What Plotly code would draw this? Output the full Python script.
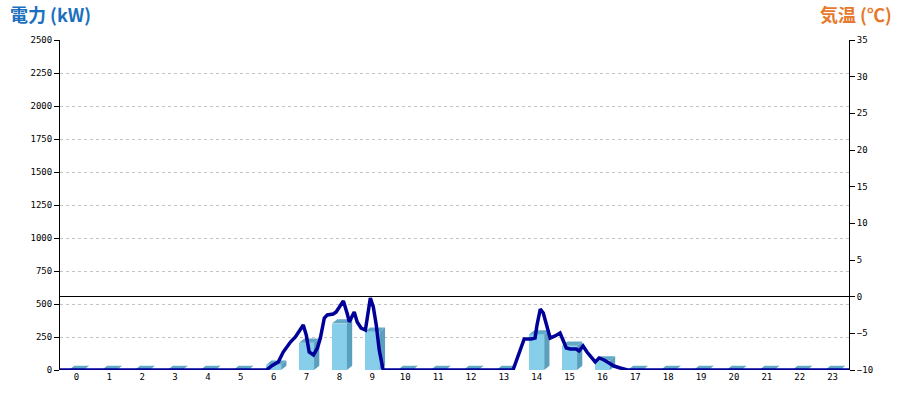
import plotly.graph_objects as go

# ---- data ----
hours = list(range(24))
hour_labels = [str(h) for h in hours]
power_kw = [0, 0, 0, 0, 0, 0, 40, 207, 352, 290, 0, 0, 0, 0, 270, 183, 72, 0, 0, 0, 0, 0, 0, 0]

# detailed power curve (time in hours, kW)
line_t = [0.0, 6.28, 6.43, 6.64, 6.79, 7.01, 7.16, 7.31, 7.40, 7.49, 7.58, 7.71, 7.83, 7.92,
          8.04, 8.13, 8.31, 8.40, 8.53, 8.62, 8.74, 8.80, 8.86, 8.95, 9.04, 9.16, 9.29, 9.38,
          9.44, 9.53, 9.62, 9.71, 9.80, 9.83,
          13.78, 14.00, 14.12, 14.33, 14.45, 14.51, 14.61, 14.70, 14.82, 14.91, 15.06, 15.21,
          15.30, 15.40, 15.52, 15.70, 15.79, 15.91, 16.03, 16.19, 16.28, 16.40, 16.55, 16.70,
          16.85, 17.04, 17.26, 24.0]
line_kw = [0, 0, 30, 61, 136, 212, 250, 303, 341, 265, 136, 114, 167, 242,
           394, 417, 424, 439, 492, 523, 424, 364, 394, 439, 364, 318, 303, 439,
           545, 477, 341, 152, 15, 0,
           0, 152, 235, 235, 242, 341, 462, 432, 333, 242, 258, 280,
           227, 167, 159, 159, 144, 182, 136, 91, 61, 91, 76, 53,
           30, 15, 0, 0]

temp_range = [-10, 35]
power_range = [0, 2500]

# ---- style ----
FRONT = "#87CEEB"
SIDE = "#5AA0BE"
TOP = "#62A9C8"
LINE = "#000099"
half_w = 0.228
dx = 0.16      # 3D depth in x (hour units)
dy = 32        # 3D depth in y (kW units)

fig = go.Figure()

# front faces
fig.add_trace(go.Bar(x=hours, y=power_kw, width=2 * half_w, marker=dict(color=FRONT, line=dict(width=0)),
                     yaxis="y", showlegend=False, hoverinfo="skip"))

# side and top faces as filled polygons
sx, sy, tx, ty = [], [], [], []
for h, v in zip(hours, power_kw):
    r = h + half_w
    l = h - half_w
    if v > 0:
        sx += [r, r + dx, r + dx, r, r, None]
        sy += [0, dy, v + dy, v, 0, None]
    tx += [l, r, r + dx, l + dx, l, None]
    ty += [v, v, v + dy, v + dy, v, None]

fig.add_trace(go.Scatter(x=sx, y=sy, mode="lines", fill="toself", fillcolor=SIDE,
                         line=dict(width=0, color=SIDE), showlegend=False, hoverinfo="skip"))
fig.add_trace(go.Scatter(x=tx, y=ty, mode="lines", fill="toself", fillcolor=TOP,
                         line=dict(width=0, color=TOP), showlegend=False, hoverinfo="skip"))

# power line
fig.add_trace(go.Scatter(x=[t - 0.5 for t in line_t], y=line_kw, mode="lines",
                         line=dict(color=LINE, width=3.5), showlegend=False))

# dummy trace on temperature axis so it renders
fig.add_trace(go.Scatter(x=[None], y=[None], yaxis="y2", showlegend=False))

tickfont = dict(family="DejaVu Sans Mono", size=9, color="#000000")

fig.update_layout(
    width=900, height=400,
    margin=dict(l=60, r=51, t=40, b=30),
    paper_bgcolor="white", plot_bgcolor="white",
    bargap=0,
    xaxis=dict(range=[-0.5, 23.5], tickvals=hours, ticktext=hour_labels, showgrid=False,
               zeroline=False, showline=False, ticks="", tickfont=tickfont, fixedrange=True),
    yaxis=dict(range=power_range, dtick=250, showgrid=True, gridcolor="#c4c4c4", griddash="dot",
               gridwidth=1, zeroline=False, showline=True, linecolor="black", linewidth=1,
               ticks="outside", ticklen=5, tickcolor="black", tickfont=tickfont),
    yaxis2=dict(range=temp_range, dtick=5, overlaying="y", side="right", showgrid=False,
                zeroline=True, zerolinecolor="black", zerolinewidth=1,
                showline=True, linecolor="black", linewidth=1,
                ticks="outside", ticklen=5, tickcolor="black", tickfont=tickfont),
    annotations=[
        dict(text="<b>電力 (kW)</b>", xref="paper", yref="paper", x=0, y=1, xanchor="left",
             yanchor="bottom", xshift=-52, yshift=11, showarrow=False,
             font=dict(family="Noto Sans CJK JP", size=18, color="#1B6FBF")),
        dict(text="<b>気温 (℃)</b>", xref="paper", yref="paper", x=1, y=1, xanchor="right",
             yanchor="bottom", xshift=45, yshift=11, showarrow=False,
             font=dict(family="Noto Sans CJK JP", size=18, color="#E8782C")),
    ],
)

fig.write_html("out.html", config={"displayModeBar": False},
               post_script="document.body.style.margin='0';document.body.style.overflow='hidden';")
